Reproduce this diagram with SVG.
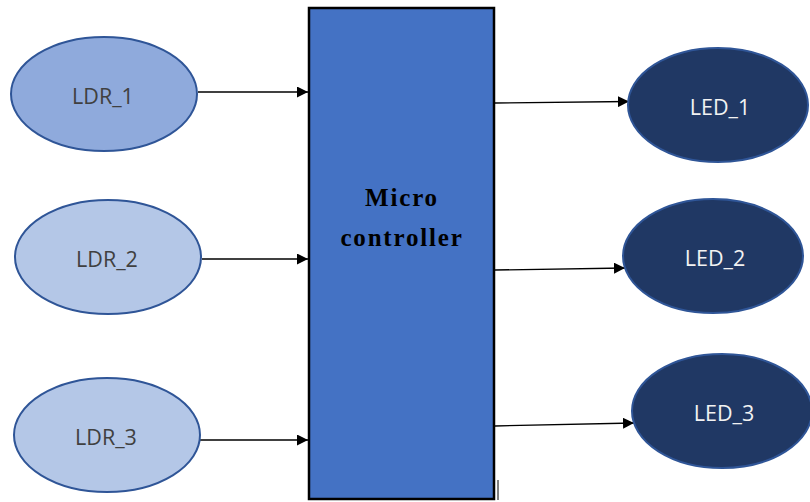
<svg xmlns="http://www.w3.org/2000/svg" width="810" height="502" viewBox="0 0 810 502">
<defs>
<style>
.ldr{stroke:#2F5597;stroke-width:2}
.led{fill:#203864;stroke:#2F5597;stroke-width:2}
.lt{font-family:"Open Sans","Liberation Sans",sans-serif;font-size:21.5px;text-anchor:middle;dominant-baseline:central}
.mt{font-family:"Liberation Serif",serif;font-weight:bold;font-size:25px;letter-spacing:1.8px;text-anchor:middle;fill:#000}
.conn{stroke:#000;stroke-width:1.3;fill:none;marker-end:url(#ah)}
</style>
<marker id="ah" viewBox="0 0 10 10" refX="10" refY="5" markerWidth="11" markerHeight="11" markerUnits="userSpaceOnUse" orient="auto">
<path d="M0,0 L10,5 L0,10 z" fill="#000"/>
</marker>
</defs>
<rect width="810" height="502" fill="#fff"/>
<g id="connectors">
<line class="conn" x1="198" y1="92" x2="308" y2="92"/>
<line class="conn" x1="202" y1="259" x2="308" y2="259"/>
<line class="conn" x1="200" y1="440" x2="308" y2="440"/>
<line class="conn" x1="495" y1="103" x2="629" y2="101.5"/>
<line class="conn" x1="495" y1="270" x2="625" y2="268"/>
<line class="conn" x1="495" y1="426" x2="634" y2="423"/>
</g>
<g id="LDR_1">
<ellipse class="ldr" cx="104" cy="94" rx="93" ry="57" fill="#8FAADC"/>
<text class="lt" x="103" y="95" fill="#404040">LDR_1</text>
</g>
<g id="LDR_2">
<ellipse class="ldr" cx="108" cy="257" rx="93" ry="57" fill="#B4C7E7"/>
<text class="lt" x="107" y="258" fill="#404040">LDR_2</text>
</g>
<g id="LDR_3">
<ellipse class="ldr" cx="107" cy="435" rx="93" ry="57" fill="#B4C7E7"/>
<text class="lt" x="106" y="436" fill="#404040">LDR_3</text>
</g>
<g id="microcontroller">
<rect x="309" y="8" width="185" height="491" fill="#4472C4" stroke="#000" stroke-width="2.5"/>
<text class="mt" x="402" y="206">Micro</text>
<text class="mt" x="402" y="246">controller</text>
<line x1="498" y1="480" x2="498" y2="500" stroke="#000" stroke-width="1"/>
</g>
<g id="LED_1">
<ellipse class="led" cx="718" cy="105" rx="90" ry="57"/>
<text class="lt" x="720" y="106" fill="#F2F2F2">LED_1</text>
</g>
<g id="LED_2">
<ellipse class="led" cx="713" cy="256" rx="90" ry="57"/>
<text class="lt" x="715" y="257" fill="#F2F2F2">LED_2</text>
</g>
<g id="LED_3">
<ellipse class="led" cx="722" cy="411" rx="90" ry="57"/>
<text class="lt" x="724" y="412" fill="#F2F2F2">LED_3</text>
</g>
</svg>
